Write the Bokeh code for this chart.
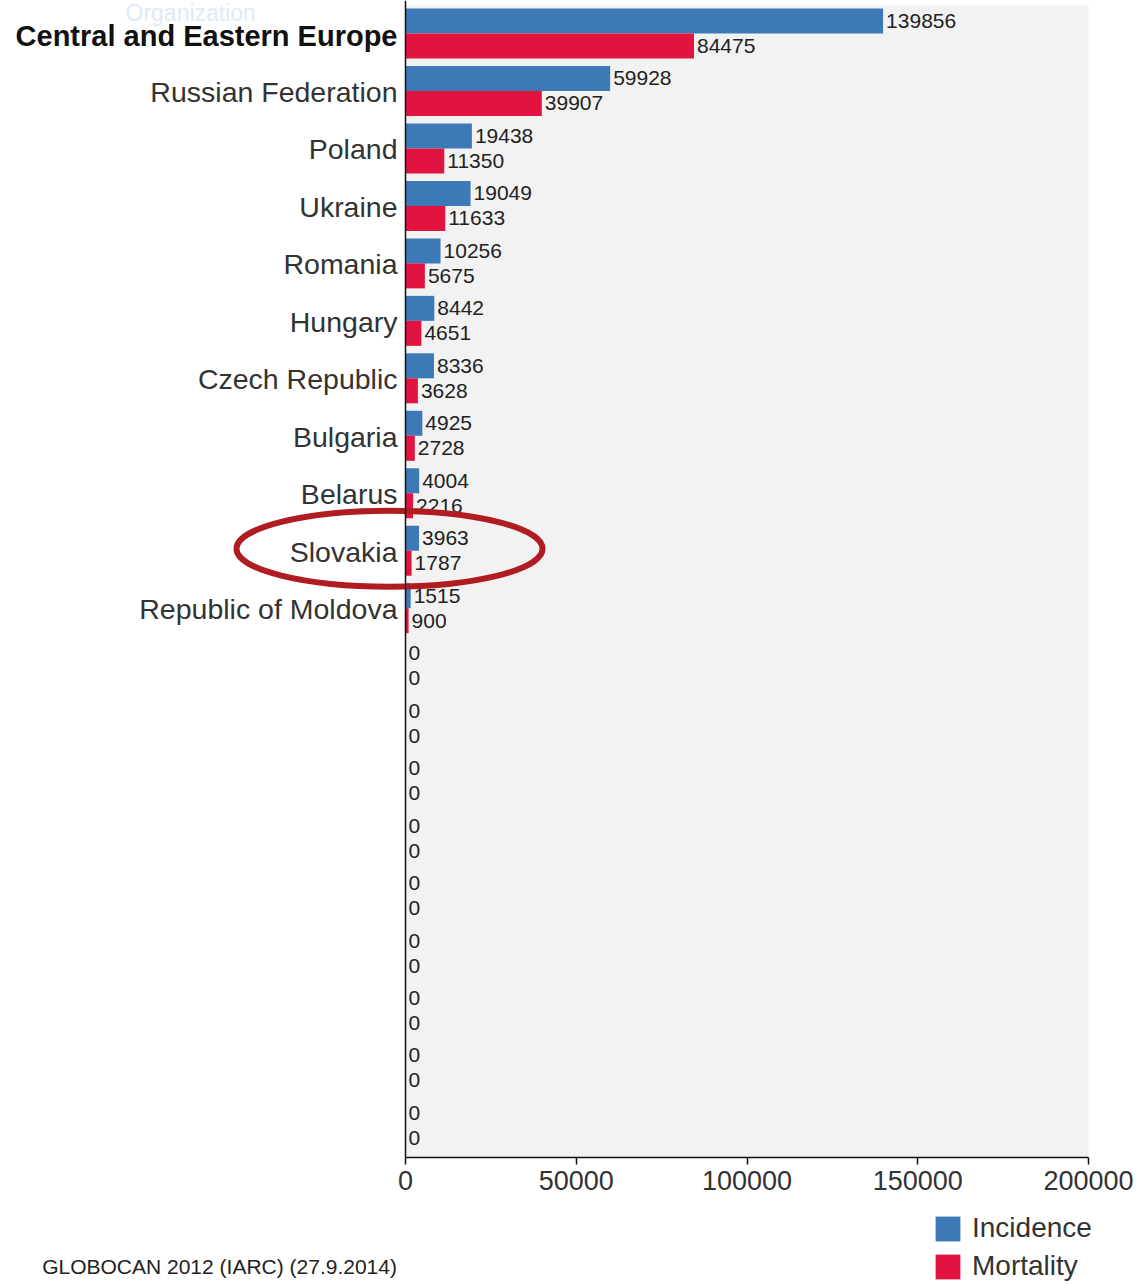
from bokeh.plotting import figure
from bokeh.layouts import column
from bokeh.models import (Range1d, FixedTicker, Span, BoxAnnotation, Legend,
                          LegendItem, Label, ColumnDataSource, NumeralTickFormatter)
from bokeh.core.properties import value
from bokeh.embed import file_html
from bokeh.resources import INLINE

# ---------------- data ----------------
categories = ["Central and Eastern Europe", "Russian Federation", "Poland", "Ukraine",
              "Romania", "Hungary", "Czech Republic", "Bulgaria", "Belarus", "Slovakia",
              "Republic of Moldova", "", "", "", "", "", "", "", "", ""]
incidence = [139856, 59928, 19438, 19049, 10256, 8442, 8336, 4925, 4004, 3963, 1515,
             0, 0, 0, 0, 0, 0, 0, 0, 0]
mortality = [84475, 39907, 11350, 11633, 5675, 4651, 3628, 2728, 2216, 1787, 900,
             0, 0, 0, 0, 0, 0, 0, 0, 0]
xticks = [0, 50000, 100000, 150000, 200000]
series_names = ["Incidence", "Mortality"]
footer = "GLOBOCAN 2012 (IARC) (27.9.2014)"
highlight = "Slovakia"

# ---------------- layout constants ----------------
BLUE = "#3c79b6"
RED = "#e1143f"
FONT = "Liberation Sans"
W = 1136
H_MAIN = 1210
H_FOOT = 72
PX_PER_UNIT = 683 / 200000.0
AXIS_X = 405
FRAME_LEFT, FRAME_RIGHT = 0, 1100
FRAME_TOP, FRAME_BOTTOM = 0, 1157
ROW0_Y, ROW_PITCH = 33, 57.47
BAR_H = 25 / ROW_PITCH


def xdata(px):
    return (px - AXIS_X) / PX_PER_UNIT


def ydata(py):
    return (py - ROW0_Y) / ROW_PITCH


n = len(categories)
rows = list(range(n))
src = ColumnDataSource(dict(
    row=rows,
    cat=categories,
    inc=incidence,
    mor=mortality,
    y_inc=[r - BAR_H / 2 for r in rows],
    y_mor=[r + BAR_H / 2 for r in rows],
    inc_txt=[str(v) for v in incidence],
    mor_txt=[str(v) for v in mortality],
))

p = figure(width=W, height=H_MAIN,
           x_range=Range1d(xdata(FRAME_LEFT), xdata(FRAME_RIGHT)),
           y_range=Range1d(ydata(FRAME_BOTTOM), ydata(FRAME_TOP)),
           output_backend="svg", toolbar_location=None, y_axis_location=None,
           min_border_left=FRAME_LEFT, min_border_right=W - FRAME_RIGHT,
           min_border_top=FRAME_TOP, min_border_bottom=H_MAIN - FRAME_BOTTOM)
p.xgrid.visible = False
p.ygrid.visible = False
p.outline_line_color = None
p.background_fill_color = "white"
p.border_fill_color = "white"

# plot-area background
p.add_layout(BoxAnnotation(left=0, right=xticks[-1], top=ydata(5),
                           fill_color="#f2f2f2", fill_alpha=1, line_color=None,
                           level="underlay"))

# faint watermark
p.add_layout(Label(x=xdata(125), y=ydata(12), text="Organization",
                   text_color="#e1eaf5", text_font=FONT, text_font_size="23px",
                   text_baseline="middle"))

# bars
r_inc = p.hbar(y="y_inc", left=0, right="inc", height=BAR_H, source=src,
               fill_color=BLUE, line_color=None)
r_mor = p.hbar(y="y_mor", left=0, right="mor", height=BAR_H, source=src,
               fill_color=RED, line_color=None)

# value labels
p.text(x="inc", y="y_inc", text="inc_txt", source=src, x_offset=3,
       text_align="left", text_baseline="middle", text_font=value(FONT),
       text_font_size="21px", text_color="#222222")
p.text(x="mor", y="y_mor", text="mor_txt", source=src, x_offset=3,
       text_align="left", text_baseline="middle", text_font=value(FONT),
       text_font_size="21px", text_color="#222222")

# category labels
p.text(x=[0], y=[rows[0]], text=[categories[0]], x_offset=-8, y_offset=2,
       text_align="right", text_baseline="middle", text_font=value(FONT),
       text_font_size="29px", text_font_style="bold", text_color="#111111")
p.text(x=[0] * (n - 1), y=rows[1:], text=categories[1:], x_offset=-8, y_offset=1,
       text_align="right", text_baseline="middle", text_font=value(FONT),
       text_font_size="28.5px", text_color="#333333")

# y axis line
p.add_layout(Span(location=0, dimension="height", line_color="#111111",
                  line_width=1.5))

# highlight ellipse
hi = categories.index(highlight)
p.ellipse(x=[xdata(389)], y=[hi - 2 / ROW_PITCH], width=306, height=76,
          width_units="screen", height_units="screen", fill_alpha=0,
          line_color="#b01c22", line_width=6)

# x axis
ax = p.xaxis[0]
ax.bounds = (xticks[0], xticks[-1])
ax.ticker = FixedTicker(ticks=xticks)
ax.formatter = NumeralTickFormatter(format="0")
ax.minor_tick_line_color = None
ax.major_tick_in = 0
ax.major_tick_out = 7
ax.axis_line_width = 1.5
ax.axis_line_color = "#111111"
ax.major_tick_line_color = "#111111"
ax.major_tick_line_width = 1.5
ax.major_label_text_font = FONT
ax.major_label_text_font_size = "27px"
ax.major_label_text_color = "#333333"
ax.major_label_standoff = 6

# ---------------- legend / footer strip ----------------
f = figure(width=W, height=H_FOOT, x_range=Range1d(0, W),
           y_range=Range1d(H_MAIN + H_FOOT, H_MAIN),
           output_backend="svg", toolbar_location=None,
           x_axis_location=None, y_axis_location=None, min_border=0)
f.xgrid.visible = False
f.ygrid.visible = False
f.outline_line_color = None
f.background_fill_color = "white"
f.border_fill_color = "white"

# swatch renderers share the chart data; hidden, only their legend swatch shows
sw_inc = f.hbar(y="row", left=0, right="inc", height=BAR_H, source=src,
                fill_color=BLUE, line_color=None, visible=False)
sw_mor = f.hbar(y="row", left=0, right="mor", height=BAR_H, source=src,
                fill_color=RED, line_color=None, visible=False)
legend = Legend(items=[LegendItem(label=series_names[0], renderers=[sw_inc], index=0),
                       LegendItem(label=series_names[1], renderers=[sw_mor], index=0)],
                location=(932, 0), orientation="vertical",
                glyph_width=31, glyph_height=31, label_text_font=FONT,
                label_text_font_size="28px", label_text_color="#333333",
                label_standoff=9, spacing=6, padding=0, margin=0,
                border_line_alpha=0, background_fill_alpha=0,
                inactive_fill_alpha=0)
f.add_layout(legend)

f.add_layout(Label(x=43, y=1266, text=footer, text_font=FONT,
                   text_font_size="21px", text_color="#222222",
                   text_baseline="middle"))

layout = column(p, f, spacing=0)
open("out.html", "w").write(file_html(layout, INLINE))
